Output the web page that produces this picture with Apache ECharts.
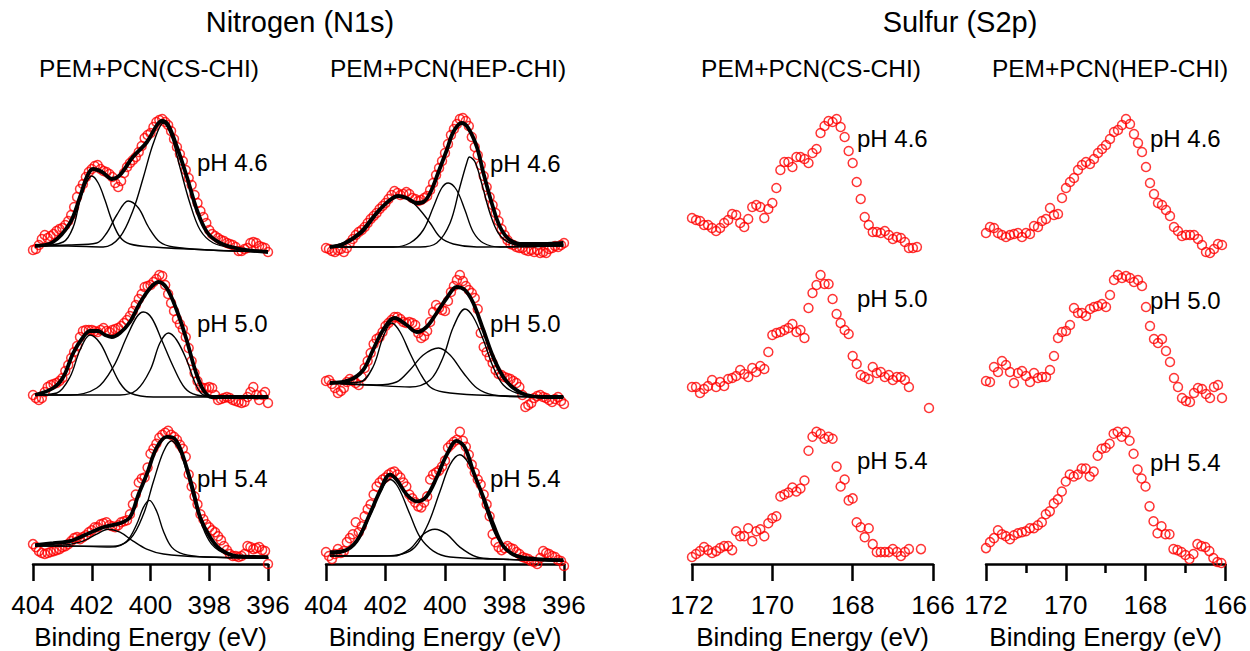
<!DOCTYPE html>
<html><head><meta charset="utf-8">
<script src="https://cdn.jsdelivr.net/npm/echarts@6/dist/echarts.min.js"></script>
<style>html,body{margin:0;padding:0;background:#fff}#c{width:1250px;height:651px}</style>
</head><body><div id="c"></div><script>
// ---- energies (binding energy, eV) ----
const N_E = [404.0,403.9,403.8,403.7,403.6,403.5,403.4,403.3,403.2,403.1,403.0,402.9,402.8,402.7,402.6,402.5,402.4,402.3,402.2,402.1,402.0,401.9,401.8,401.7,401.6,401.5,401.4,401.3,401.2,401.1,401.0,400.9,400.8,400.7,400.6,400.5,400.4,400.3,400.2,400.1,400.0,399.9,399.8,399.7,399.6,399.5,399.4,399.3,399.2,399.1,399.0,398.9,398.8,398.7,398.6,398.5,398.4,398.3,398.2,398.1,398.0,397.9,397.8,397.7,397.6,397.5,397.4,397.3,397.2,397.1,397.0,396.9,396.8,396.7,396.6,396.5,396.4,396.3,396.2,396.1,396.0];
const S_E = [172.0,171.9,171.8,171.7,171.6,171.5,171.4,171.3,171.2,171.1,171.0,170.9,170.8,170.7,170.6,170.5,170.4,170.3,170.2,170.1,170.0,169.9,169.8,169.7,169.6,169.5,169.4,169.3,169.2,169.1,169.0,168.9,168.8,168.7,168.6,168.5,168.4,168.3,168.2,168.1,168.0,167.9,167.8,167.7,167.6,167.5,167.4,167.3,167.2,167.1,167.0,166.9,166.8,166.7,166.6,166.5,166.4,166.3,166.2,166.1];

// ---- N1s measured intensities (a.u.) ----
const N_cs46 = [15,16,20,26,30,27,29,31,34,36,37,40,44,50,58,68,76,81,88,93,96,99,100,96,94,93,91,88,82,78,84,92,98,102,105,108,113,119,127,130,132,138,143,145,146,143,140,134,126,118,111,104,95,87,80,70,62,54,48,42,35,31,29,27,25,24,22,21,20,18,14,14,16,17,22,23,22,19,18,17,13];
const N_hep46 = [17,16,14,13,15,16,13,17,22,26,30,33,35,38,42,46,49,52,56,59,62,66,70,74,72,70,71,73,71,67,66,64,65,67,69,75,82,90,97,104,112,121,130,136,141,146,147,144,139,128,118,110,100,89,78,68,60,52,44,36,30,25,21,20,18,17,17,15,14,15,13,15,12,13,12,16,17,19,18,20,22];
const N_cs50 = [30,27,25,27,33,38,40,41,42,44,47,54,60,67,73,79,88,94,95,95,95,94,93,95,97,94,93,95,96,97,99,102,105,109,114,120,126,131,138,139,140,143,146,150,149,140,131,122,114,106,101,96,88,77,64,52,44,38,37,37,38,37,30,25,26,27,28,27,25,24,23,22,23,28,33,38,30,25,30,33,22];
const N_hep50 = [44,45,41,37,32,34,37,43,46,44,42,40,48,57,64,72,81,86,88,93,99,102,105,108,108,106,103,102,103,102,100,92,87,89,94,103,113,120,117,115,114,124,133,139,145,150,144,139,135,132,127,116,92,78,73,68,62,55,51,50,48,47,46,44,42,38,30,18,20,22,27,29,30,28,27,25,23,26,28,24,21];
const N_cs54 = [20,17,13,11,10,11,12,13,14,15,17,18,20,23,26,27,25,27,29,32,34,37,37,40,41,42,39,38,37,39,42,43,44,50,60,70,82,86,87,97,111,116,121,127,130,132,134,130,128,125,120,116,108,90,78,68,60,50,45,40,37,34,32,28,24,18,14,10,8,8,7,8,10,18,17,15,16,17,14,13,0];
const N_hep54 = [12,8,5,10,15,11,13,22,26,30,42,32,38,48,55,60,70,78,82,85,87,90,92,93,90,87,82,78,70,66,62,58,57,62,68,85,90,92,94,98,104,117,120,123,125,133,124,118,110,100,92,85,80,70,60,48,30,22,17,14,16,18,16,15,12,10,7,6,5,3,2,0,6,13,11,10,8,7,4,3,-2];

// ---- S2p measured intensities (a.u.) ----
const S_cs46 = [47,45,44,40,40,37,34,37,42,45,51,50,42,38,46,58,60,58,47,56,62,77,95,103,103,98,108,108,106,102,112,116,132,139,144,143,146,138,128,114,102,83,66,48,40,33,33,32,34,30,26,28,27,23,17,17,18,null,null,null];
const S_cs50 = [38,38,32,36,39,45,38,43,39,46,47,49,55,51,48,57,53,59,56,73,90,92,93,95,97,101,93,95,87,117,132,140,150,141,141,126,111,102,95,91,69,61,50,48,46,58,52,53,48,50,45,48,48,45,38,null,null,null,null,17];
const S_cs54 = [7,10,13,17,14,11,13,16,18,18,14,33,28,28,36,23,33,35,28,41,46,48,68,70,72,77,73,76,84,114,128,133,131,126,128,126,98,78,85,64,66,42,37,27,36,20,12,12,12,12,15,12,8,12,15,null,null,15,null,null];
const S_hep46 = [32,38,37,32,30,28,30,31,32,28,32,31,39,38,44,46,57,50,51,67,77,83,87,95,100,103,101,106,112,116,120,126,133,135,140,146,141,131,122,113,98,82,71,62,60,55,49,38,34,29,30,30,30,26,20,13,12,16,21,20];
const S_hep50 = [44,43,58,53,64,60,53,42,52,54,49,43,52,47,48,48,55,69,87,93,94,100,117,112,112,109,116,118,119,121,118,130,145,150,147,149,147,143,145,139,118,99,86,82,86,74,63,47,38,27,24,23,32,37,36,31,27,38,40,27];
const S_hep54 = [16,22,26,34,30,28,25,29,31,32,33,36,36,39,42,50,53,61,65,73,83,90,88,90,96,96,88,93,109,116,117,121,131,133,128,133,124,111,95,86,78,58,43,31,38,30,30,15,14,12,9,5,10,20,18,17,13,6,2,1];

// ---- N1s fitted curves [E, intensity] ----
const env_cs46 = [[403.93,19],[403.32,23],[402.74,42],[402.40,68],[402.17,88],[401.96,96],[401.65,93],[401.31,86],[401.04,90],[400.60,108],[400.12,123],[399.78,140],[399.61,144],[399.40,140],[399.10,118],[398.76,88],[398.42,55],[398.08,33],[397.63,22],[396.95,16],[396.0,13]];
const pk1_cs46 = [[403.93,19],[402.97,23],[402.63,38],[402.40,65],[402.17,83],[402.0,89],[401.78,82],[401.55,65],[401.32,45],[401.04,28],[400.70,21],[399.90,18],[398.0,15],[396.0,13]];
const pk2_cs46 = [[403.93,19],[402.8,20],[401.83,22],[401.49,32],[401.15,50],[400.76,64],[400.41,57],[400.07,38],[399.68,23],[399.22,18],[398.0,15],[396.0,13]];
const pk3_cs46 = [[403.93,19],[402.8,19],[401.61,18],[401.04,28],[400.59,55],[400.24,88],[399.90,122],[399.56,142],[399.28,128],[399.0,98],[398.66,62],[398.31,35],[397.86,22],[397.18,17],[396.0,13]];

const env_hep46 = [[403.87,18],[403.42,21],[402.86,32],[402.30,52],[401.85,65],[401.57,69],[401.29,67],[400.95,62],[400.73,63],[400.50,72],[400.22,93],[399.94,115],[399.72,133],[399.44,142],[399.22,137],[398.93,118],[398.71,92],[398.43,62],[398.15,38],[397.82,25],[397.37,21],[396.70,21],[396.02,22]];
const pk1_hep46 = [[403.87,18],[402.86,30],[402.30,50],[401.85,65],[401.51,69],[401.18,65],[400.84,55],[400.50,42],[400.17,28],[399.72,21],[398.93,18],[396.02,20]];
const pk2_hep46 = [[403.87,18],[402.5,18],[401.74,18],[401.18,22],[400.73,35],[400.39,58],[400.11,77],[399.89,82],[399.61,75],[399.33,55],[399.05,33],[398.71,22],[398.15,18],[396.02,19]];
const pk3_hep46 = [[403.87,18],[402.5,18],[400.84,18],[400.28,22],[399.83,42],[399.50,78],[399.27,102],[399.18,108],[398.99,103],[398.77,82],[398.49,52],[398.21,32],[397.82,22],[397.25,19],[396.02,19]];

const env_cs50 = [[403.93,30],[403.31,37],[402.97,48],[402.63,72],[402.29,88],[402.06,94],[401.78,94],[401.55,90],[401.32,88],[401.04,92],[400.70,103],[400.36,122],[400.01,137],[399.73,143],[399.45,137],[399.11,115],[398.77,85],[398.48,55],[398.20,35],[397.92,28],[397.07,28],[395.99,28]];
const pk1_cs50 = [[403.93,30],[403.19,32],[402.74,48],[402.40,75],[402.06,90],[401.72,82],[401.38,62],[401.04,42],[400.70,32],[399.90,28],[395.99,28]];
const pk2_cs50 = [[403.93,30],[402.74,30],[401.83,37],[401.27,58],[400.81,88],[400.47,108],[400.24,113],[399.96,107],[399.62,85],[399.22,58],[398.83,37],[398.43,30],[397.63,28],[395.99,28]];
const pk3_cs50 = [[403.93,30],[402.5,30],[401.04,30],[400.47,35],[400.01,55],[399.68,82],[399.39,92],[399.11,85],[398.77,65],[398.48,42],[398.20,30],[397.63,28],[395.99,28]];

const env_hep50 = [[403.87,42],[403.20,45],[402.75,55],[402.42,75],[402.08,95],[401.69,107],[401.29,100],[400.95,93],[400.62,98],[400.28,112],[399.94,127],[399.61,138],[399.33,135],[399.05,122],[398.71,95],[398.38,68],[398.04,48],[397.70,37],[397.26,30],[396.70,28],[396.02,28]];
const pk1_hep50 = [[403.87,42],[402.86,43],[402.42,58],[402.08,88],[401.79,102],[401.51,93],[401.18,72],[400.84,52],[400.50,38],[400.06,33],[398.93,30],[396.02,28]];
const pk2_hep50 = [[403.87,42],[402.30,40],[401.63,43],[401.18,55],[400.73,70],[400.22,77],[399.83,70],[399.38,52],[398.93,37],[398.38,30],[397.26,28],[396.02,28]];
const pk3_hep50 = [[403.87,42],[402.5,40],[401.18,38],[400.50,45],[400.06,68],[399.72,98],[399.33,116],[399.05,108],[398.71,85],[398.38,58],[398.04,40],[397.59,32],[396.70,28],[396.02,28]];

const env_cs54 = [[403.93,19],[403.31,21],[402.74,23],[402.17,30],[401.61,37],[401.04,41],[400.70,47],[400.41,70],[400.13,90],[399.79,117],[399.45,128],[399.22,127],[399.0,117],[398.77,97],[398.54,73],[398.31,47],[397.97,27],[397.63,15],[397.07,8],[395.99,7]];
const pk1_cs54 = [[403.93,19],[403.08,19],[402.40,22],[401.83,30],[401.44,35],[401.04,32],[400.59,23],[400.13,15],[399.56,10],[398.20,7],[395.99,6]];
const pk2_cs54 = [[403.93,18],[402.5,18],[401.27,18],[400.81,23],[400.47,40],[400.24,57],[400.04,64],[399.79,53],[399.56,33],[399.28,17],[398.88,10],[398.09,7],[395.99,6]];
const pk3_cs54 = [[403.93,18],[402.5,18],[401.38,17],[400.70,25],[400.24,50],[399.90,83],[399.56,113],[399.28,124],[399.0,113],[398.77,93],[398.54,67],[398.26,40],[397.92,20],[397.41,10],[396.50,7],[395.99,6]];

const env_hep54 = [[403.87,12],[403.42,13],[402.97,23],[402.53,50],[402.19,73],[401.85,90],[401.63,85],[401.29,70],[400.95,63],[400.62,68],[400.28,87],[399.94,110],[399.61,124],[399.33,117],[399.05,93],[398.71,67],[398.38,40],[398.04,18],[397.59,8],[396.92,5],[396.02,4]];
const pk1_hep54 = [[403.87,10],[403.42,12],[402.97,22],[402.53,48],[402.19,72],[401.85,85],[401.57,77],[401.18,50],[400.84,27],[400.39,13],[399.83,7],[398.26,5],[396.02,3]];
const pk2_hep54 = [[403.87,8],[402.8,8],[401.74,8],[401.18,15],[400.73,30],[400.34,35],[399.94,30],[399.50,17],[398.93,7],[398.26,5],[396.02,3]];
const pk3_hep54 = [[403.87,8],[402.8,8],[402.30,8],[401.18,13],[400.62,37],[400.17,73],[399.83,100],[399.50,110],[399.22,102],[398.93,83],[398.60,53],[398.26,27],[397.82,12],[396.92,5],[396.02,3]];

// ---- text ----
const mainTitles = ['Nitrogen (N1s)', 'Sulfur (S2p)'];
const subTitles = ['PEM+PCN(CS-CHI)', 'PEM+PCN(HEP-CHI)', 'PEM+PCN(CS-CHI)', 'PEM+PCN(HEP-CHI)'];
const phLabels = ['pH 4.6', 'pH 5.0', 'pH 5.4'];
const xName = 'Binding Energy (eV)';

// ---- layout ----
const FONT = '"Liberation Sans", Arial, sans-serif';
const cols = [
  {left:33, width:235, min:396, max:404, minor:false, E:N_E, data:[N_cs46,N_cs50,N_cs54], fits:[[env_cs46,pk1_cs46,pk2_cs46,pk3_cs46],[env_cs50,pk1_cs50,pk2_cs50,pk3_cs50],[env_cs54,pk1_cs54,pk2_cs54,pk3_cs54]], phX:197, phY:[162,323,478], subX:149},
  {left:326, width:238, min:396, max:404, minor:false, E:N_E, data:[N_hep46,N_hep50,N_hep54], fits:[[env_hep46,pk1_hep46,pk2_hep46,pk3_hep46],[env_hep50,pk1_hep50,pk2_hep50,pk3_hep50],[env_hep54,pk1_hep54,pk2_hep54,pk3_hep54]], phX:490, phY:[163,323,478], subX:448},
  {left:692, width:241, min:166, max:172, minor:false, E:S_E, data:[S_cs46,S_cs50,S_cs54], fits:null, phX:857, phY:[138,298,460], subX:811},
  {left:986, width:240, min:166, max:172, minor:true, E:S_E, data:[S_hep46,S_hep50,S_hep54], fits:null, phX:1150, phY:[138,300,462], subX:1110}
];
const rowBottoms = [265, 425, 565];
const PH = 160;

const grid = [], xAxis = [], yAxis = [], series = [], graphic = [];
cols.forEach((c, ci) => {
  rowBottoms.forEach((b, ri) => {
    const gi = ci * 3 + ri;
    const bottomRow = ri === 2;
    grid.push({left: c.left, width: c.width, top: b - PH, height: PH, containLabel: false});
    xAxis.push({
      gridIndex: gi, type: 'value', min: c.min, max: c.max, interval: 2, inverse: true,
      show: bottomRow,
      axisLine: {show: true, onZero: false, lineStyle: {color: '#000', width: 2.5}},
      axisTick: {show: true, inside: false, length: 17, lineStyle: {color: '#000', width: 2.5}},
      minorTick: {show: c.minor, splitNumber: 2, length: 9, lineStyle: {color: '#000', width: 2.5}},
      splitLine: {show: false}, minorSplitLine: {show: false},
      axisLabel: {color: '#000', fontSize: 26, fontFamily: FONT, margin: 28},
      name: xName, nameLocation: 'middle', nameGap: 60,
      nameTextStyle: {color: '#000', fontSize: 26, fontFamily: FONT}
    });
    yAxis.push({gridIndex: gi, type: 'value', min: 0, max: PH, show: false});
    const pts = [];
    c.data[ri].forEach((v, k) => { if (v !== null) pts.push([c.E[k], v]); });
    series.push({
      type: 'scatter', xAxisIndex: gi, yAxisIndex: gi, data: pts, clip: false,
      symbol: 'circle', symbolSize: 9, silent: true, z: 2,
      itemStyle: {color: 'rgba(255,255,255,0)', borderColor: '#ff0000', borderWidth: 1.5}
    });
    if (c.fits) {
      c.fits[ri].forEach((curve, k) => {
        series.push({
          type: 'line', xAxisIndex: gi, yAxisIndex: gi, data: curve, smooth: 0.35,
          showSymbol: false, symbol: 'none', clip: false, silent: true, z: k === 0 ? 4 : 3,
          lineStyle: {color: '#000', width: k === 0 ? 3.8 : 1.4}
        });
      });
    }
    graphic.push({type: 'text', x: c.phX, y: c.phY[ri],
      style: {text: phLabels[ri], font: '24px ' + FONT, fill: '#000', align: 'left', verticalAlign: 'middle'}});
  });
  graphic.push({type: 'text', x: c.subX, y: 68,
    style: {text: subTitles[ci], font: '24.5px ' + FONT, fill: '#000', align: 'center', verticalAlign: 'middle'}});
});
graphic.push({type: 'text', x: 300, y: 22, style: {text: mainTitles[0], font: '29px ' + FONT, fill: '#000', align: 'center', verticalAlign: 'middle'}});
graphic.push({type: 'text', x: 960, y: 22, style: {text: mainTitles[1], font: '29px ' + FONT, fill: '#000', align: 'center', verticalAlign: 'middle'}});

const chart = echarts.init(document.getElementById('c'), null, {renderer: 'svg'});
chart.setOption({animation: false, backgroundColor: '#fff', grid, xAxis, yAxis, series, graphic});
</script></body></html>
